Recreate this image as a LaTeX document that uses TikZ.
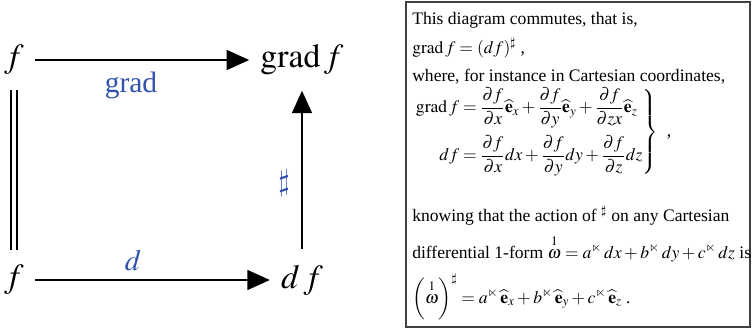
\documentclass[tikz,border=0pt]{standalone}
\usepackage{amsmath,amssymb}
\usepackage{mathptmx}
\usepackage{fontspec}
\setmainfont{Liberation Serif}
\usepackage{tikz}
\usetikzlibrary{arrows.meta}
\definecolor{lblblue}{rgb}{0.20,0.32,0.68}
\definecolor{boxgray}{rgb}{0.25,0.25,0.25}

\begin{document}
\begin{tikzpicture}[x=0.025cm,y=-0.025cm,obj/.style={font=\fontsize{24}{28}\selectfont,inner sep=0pt,outer xsep=8pt,outer ysep=11pt},a/.style={-{Triangle[length=16pt,width=14pt]},line width=1.8pt},lbl/.style={font=\fontsize{21}{25}\selectfont,text=lblblue,inner sep=0pt},txt/.style={font=\fontsize{12.5}{15}\selectfont,anchor=base west,inner sep=0pt}]
\useasboundingbox (0,0) rectangle (752,329);
% commutative square
\node[obj] (f1) at (14,60) {$f$};
\node[obj] (g) at (302,60) {$\operatorname{grad}f$};
\node[obj] (f2) at (14,280) {$f$};
\node[obj] (df) at (302,280) {$d\,f$};
\draw[a](f1)--(g);
\draw[a](f2)--(df);
\draw[a](df)--(g);
\draw[double,double distance=3.5pt,line width=1.4pt](f1)--(f2);
\node[lbl] (lg) at (131,85) {grad};
\node[lbl] (ld) at (133,260) {$d$};
\node[lbl] (ls) at (284,183) {$\sharp$};
% explanation box
\draw[boxgray,line width=0.8pt] (406,2) rectangle (750,327);
\node[txt] (t1) at (412,25) {This diagram commutes, that is,};
\node[txt] (t2) at (412,53) {$\operatorname{grad}f=(df)^{\sharp}$ ,};
\node[txt] (t3) at (412,81) {where, for instance in Cartesian coordinates,};
\node[txt,anchor=west] (t4) at (414,132) {$\displaystyle\left.\begin{aligned}
\operatorname{grad}f&=\frac{\partial f}{\partial x}\widehat{\mathbf{e}}_x+\frac{\partial f}{\partial y}\widehat{\mathbf{e}}_y+\frac{\partial f}{\partial zx}\widehat{\mathbf{e}}_z\\[1pt]
df&=\frac{\partial f}{\partial x}dx+\frac{\partial f}{\partial y}dy+\frac{\partial f}{\partial z}dz
\end{aligned}\right\}$~~,};
\node[txt] (t5) at (412,221) {knowing that the action of $^{\sharp}$ on any Cartesian};
\node[txt] (t6) at (412,258) {differential 1-form $\overset{1}{\omega}=a^{\ltimes}\,dx+b^{\ltimes}\,dy+c^{\ltimes}\,dz$ is};
\node[txt] (t7) at (412,303) {$\left(\overset{1}{\omega}\right)^{\sharp}=a^{\ltimes}\,\widehat{\mathbf{e}}_x+b^{\ltimes}\,\widehat{\mathbf{e}}_y+c^{\ltimes}\,\widehat{\mathbf{e}}_z$ .};
\end{tikzpicture}
\end{document}
